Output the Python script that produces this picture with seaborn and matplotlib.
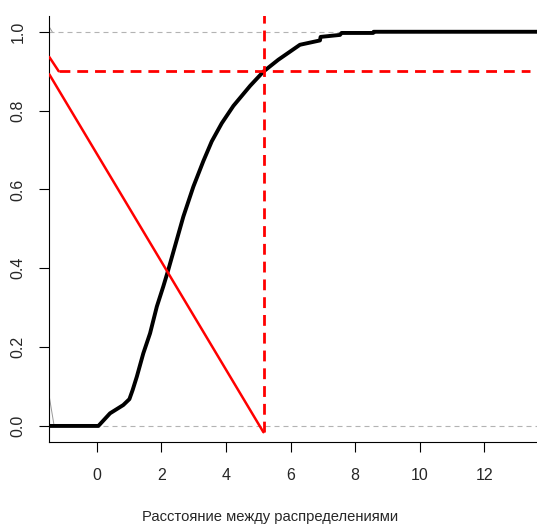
import numpy as np
import pandas as pd
import matplotlib
matplotlib.use("Agg")
import matplotlib.pyplot as plt
import seaborn as sns

# ECDF of the distances
ecdf_x = [-1.6, 0.05, 0.41, 0.82, 1.01, 1.11, 1.24, 1.44, 1.65, 1.86, 2.06, 2.20,
          2.39, 2.68, 2.99, 3.30, 3.56, 3.87, 4.23, 4.75, 5.16, 5.62, 6.29, 6.91,
          6.93, 7.53, 7.58, 8.56, 8.57, 14.0]
ecdf_y = [0.0, 0.0, 0.032, 0.053, 0.068, 0.091, 0.125, 0.184, 0.235, 0.303, 0.354, 0.392,
          0.447, 0.531, 0.607, 0.672, 0.722, 0.768, 0.812, 0.863, 0.899, 0.929, 0.967, 0.978,
          0.987, 0.992, 0.997, 0.997, 1.0, 1.0]

# thin grey leftovers near the left edge
grey_lo_x = [-1.47, -1.32]
grey_lo_y = [0.074, 0.0]
grey_hi_x = [-1.47, -1.38]
grey_hi_y = [1.012, 1.0]

# red lines
red_line_x = [-1.47, 5.16]
red_line_y = [0.892, -0.016]
red_short_x = [-1.47, -1.18]
red_short_y = [0.936, 0.9]
level = 0.9
quant = 5.17
hline_x = [-1.18, 13.4]
vline_y = [-0.016, 1.06]

x_ticks = [0, 2, 4, 6, 8, 10, 12]
y_ticks = [0.0, 0.2, 0.4, 0.6, 0.8, 1.0]
x_label = "Расстояние между распределениями"

sns.set_style("ticks")
plt.rcParams['font.family'] = ['Liberation Sans', 'DejaVu Sans']

fig = plt.figure(figsize=(5.37, 5.28), dpi=100)
ax = fig.add_axes([49.3 / 537, 1 - 441.7 / 528, (537 - 49.3) / 537, (441.7 - 16) / 528])

# reference lines at 0 and 1
for yy in [0.0, 1.0]:
    ax.axhline(yy, color='#b3b3b3', lw=0.8, dashes=(4.5, 3.6), zorder=1)

df = pd.DataFrame({'x': ecdf_x, 'y': ecdf_y})
sns.lineplot(data=df, x='x', y='y', sort=False, estimator=None, color='black',
             lw=2.8, ax=ax, zorder=3)

ax.plot(grey_lo_x, grey_lo_y, color='#999999', lw=0.7, zorder=2)
ax.plot(grey_hi_x, grey_hi_y, color='#999999', lw=0.7, zorder=2)

ax.plot(red_line_x, red_line_y, color='red', lw=1.8, zorder=4)
ax.plot(red_short_x, red_short_y, color='red', lw=1.8, zorder=4)
ax.plot(hline_x, [level, level], color='red', lw=2.0, dashes=(3.9, 2.5), zorder=4)
ax.plot([quant, quant], vline_y, color='red', lw=2.0, dashes=(3.9, 2.5), zorder=4)

ax.set_xlim(-1.47, 13.63)
ax.set_ylim(-0.04, 1.04)
ax.set_xticks(x_ticks)
ax.set_yticks(y_ticks)
ax.set_xticklabels([str(t) for t in x_ticks], fontsize=11.5)
ax.set_yticklabels([f"{t:.1f}" for t in y_ticks], fontsize=11.5, rotation=90, va='center')
ax.tick_params(axis='both', length=7, width=0.8, color='black')
ax.tick_params(axis='x', pad=12)
ax.tick_params(axis='y', pad=10)
ax.set_xlabel(x_label, fontsize=10.6)
ax.set_ylabel("")
ax.xaxis.set_label_coords((270 - 49.3) / 487.7, -(517 - 441.7) / 425.7)
ax.xaxis.label.set_va('center')

sns.despine(ax=ax)
for s in ['left', 'bottom']:
    ax.spines[s].set_color('black')
    ax.spines[s].set_linewidth(0.8)

fig.savefig('out.png', dpi=100)
